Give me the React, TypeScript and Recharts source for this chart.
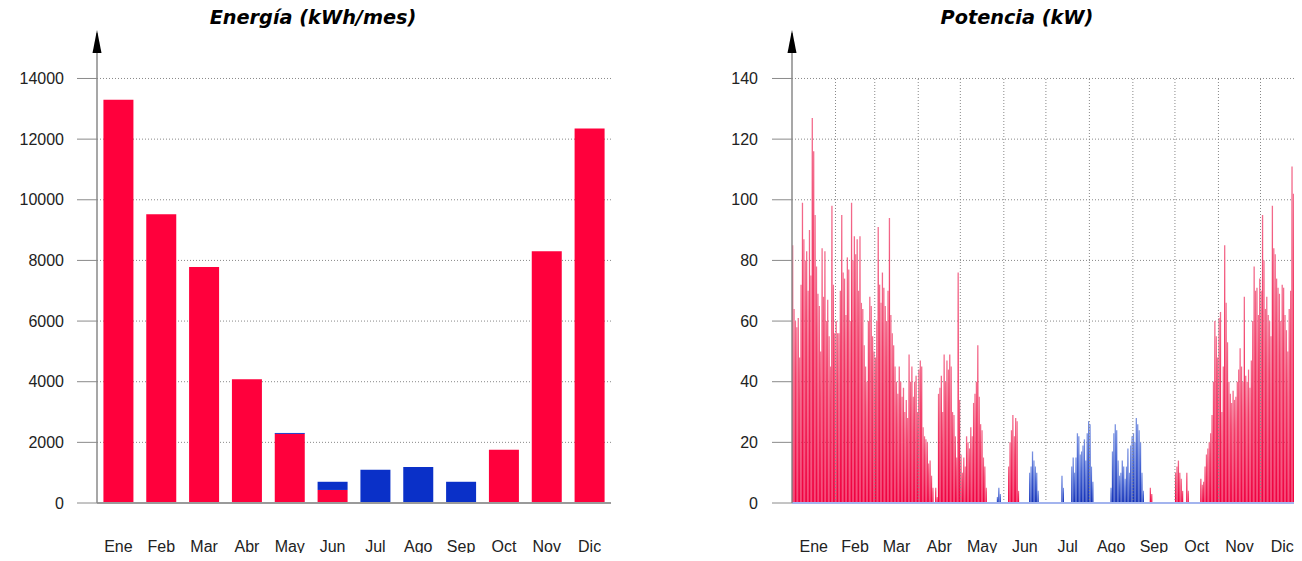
import React from "react";
import { BarChart, Bar, XAxis, YAxis, CartesianGrid, ReferenceLine } from "recharts";

// ---- monthly energy (kWh/mes) ----
const months = ["Ene", "Feb", "Mar", "Abr", "May", "Jun", "Jul", "Ago", "Sep", "Oct", "Nov", "Dic"];
const heatingKWh = [13300, 9520, 7780, 4080, 2280, 430, 0, 0, 0, 1760, 8300, 12350];
const coolingKWh = [0, 0, 0, 0, 30, 270, 1100, 1190, 700, 0, 0, 0];
const energyTicks = [0, 2000, 4000, 6000, 8000, 10000, 12000, 14000];

// ---- daily peak power (kW) ----
const powerTicks = [0, 20, 40, 60, 80, 100, 120, 140];

const heatEne = [85, 64, 60, 58, 61, 48, 72, 99, 87, 80, 83, 70, 90, 75, 127, 116, 95, 78, 69, 65, 50, 84, 68, 83, 60, 67, 55, 45, 98, 72, 56];
const heatFeb = [60, 56, 56, 70, 95, 76, 74, 62, 81, 77, 60, 99, 80, 88, 82, 87, 70, 88, 66, 64, 52, 45, 40, 60, 68, 65, 55, 50];
const heatMar = [48, 60, 91, 72, 66, 76, 71, 65, 60, 70, 94, 62, 56, 52, 45, 40, 36, 45, 40, 35, 38, 30, 34, 28, 49, 40, 45, 35, 40, 42, 30];
const heatAbr = [44, 47, 45, 25, 22, 21, 20, 13, 14, 9, 5, 0, 5, 2, 36, 38, 42, 30, 49, 40, 47, 44, 49, 45, 30, 29, 22, 15, 76, 34];
const heatMay = [16, 10, 15, 12, 22, 20, 18, 25, 22, 33, 36, 40, 52, 35, 26, 24, 15, 12, 5, 0, 0, 0, 0, 0, 0, 0, 0, 0, 0, 0, 0];
const heatJun = [0, 0, 0, 12, 20, 24, 29, 22, 28, 27, 4, 0, 0, 0, 0, 0, 0, 0, 0, 0, 0, 0, 0, 0, 0, 0, 0, 0, 0, 0];
const heatJul = [0, 0, 0, 0, 0, 0, 0, 0, 0, 0, 0, 0, 0, 0, 0, 0, 0, 0, 0, 0, 0, 0, 0, 0, 0, 0, 0, 0, 0, 0, 0];
const heatAgo = [0, 0, 0, 0, 0, 0, 0, 0, 0, 0, 0, 0, 0, 0, 0, 0, 0, 0, 0, 0, 0, 0, 0, 0, 0, 0, 0, 0, 0, 0, 0];
const heatSep = [0, 0, 0, 0, 0, 0, 0, 0, 0, 0, 0, 0, 5, 3, 0, 0, 0, 0, 0, 0, 0, 0, 0, 0, 0, 0, 0, 0, 0, 0];
const heatOct = [10, 12, 14, 10, 8, 4, 0, 0, 10, 4, 0, 0, 0, 0, 0, 0, 0, 0, 8, 6, 7, 12, 16, 18, 20, 23, 29, 40, 60, 55, 48];
const heatNov = [61, 63, 30, 45, 85, 66, 53, 40, 36, 33, 37, 34, 35, 40, 44, 51, 45, 40, 68, 42, 40, 44, 38, 47, 60, 78, 70, 71, 62, 74];
const heatDic = [70, 95, 80, 64, 68, 62, 60, 55, 98, 84, 82, 74, 71, 69, 60, 72, 71, 62, 57, 50, 64, 70, 111, 102, 96, 93, 71, 65, 62, 60, 55];

const coolMay = [0, 0, 0, 0, 0, 0, 0, 0, 0, 0, 0, 0, 0, 0, 0, 0, 0, 0, 0, 0, 0, 0, 0, 0, 0, 0, 2, 5, 3, 0, 0];
const coolJun = [0, 0, 0, 0, 0, 0, 0, 0, 0, 0, 0, 0, 0, 0, 0, 0, 0, 0, 10, 12, 17, 14, 12, 10, 4, 0, 0, 0, 0, 0];
const coolJul = [0, 0, 0, 0, 0, 0, 0, 0, 0, 0, 0, 9, 5, 0, 0, 0, 0, 0, 12, 15, 10, 15, 23, 22, 16, 17, 19, 21, 14, 23, 27];
const coolAgo = [26, 12, 7, 0, 0, 0, 0, 0, 0, 0, 0, 0, 0, 0, 0, 5, 17, 23, 26, 24, 14, 9, 10, 14, 12, 8, 12, 18, 10, 19, 22];
const coolSep = [23, 20, 28, 26, 24, 20, 10, 4, 0, 0, 0, 0, 0, 0, 0, 0, 0, 0, 0, 0, 0, 0, 0, 0, 0, 0, 0, 0, 0, 0];

const heatByMonth = [heatEne, heatFeb, heatMar, heatAbr, heatMay, heatJun, heatJul, heatAgo, heatSep, heatOct, heatNov, heatDic];
const coolByMonth: Record<number, number[]> = { 4: coolMay, 5: coolJun, 6: coolJul, 7: coolAgo, 8: coolSep };

const energyData = months.map((m, i) => ({ month: m, heat: heatingKWh[i], cool: coolingKWh[i] }));

const powerData: { d: number; heat: number; cool: number }[] = [];
const monthStarts: number[] = [];
const monthMids: number[] = [];
{
  let day = 0;
  heatByMonth.forEach((arr, m) => {
    monthStarts.push(day);
    monthMids.push(day + arr.length / 2);
    arr.forEach((v, i) => {
      powerData.push({ d: day + 0.5, heat: v, cool: coolByMonth[m] ? coolByMonth[m][i] : 0 });
      day++;
    });
  });
}
const totalDays = powerData.length;
const boundaries = monthStarts.slice(1);

const tickFont = { fontSize: 16, fill: "#222", fontFamily: "Liberation Sans, Arial, sans-serif" };
const titleStyle: React.CSSProperties = {
  position: "absolute",
  top: 7,
  width: 400,
  textAlign: "center",
  fontFamily: "DejaVu Sans, Verdana, sans-serif",
  fontWeight: "bold",
  fontStyle: "italic",
  fontSize: 19.3,
  lineHeight: "22px",
  color: "#000",
};

function AxisArrow(props: any) {
  const vb = props.viewBox;
  if (!vb) return null;
  const x = vb.x + vb.width;
  const y = vb.y;
  return <path d={`M${x - 4.5},${y + 20} L${x},${y - 3} L${x + 4.5},${y + 20} Z`} fill="#000" />;
}

function EnergyChart() {
  return (
    <BarChart width={650} height={561} data={energyData} margin={{ top: 33, right: 39, bottom: 0, left: 0 }} barCategoryGap="15%">
      <CartesianGrid vertical={false} stroke="#888" strokeDasharray="1 2" syncWithTicks />
      <XAxis
        dataKey="month"
        height={58}
        tickLine={false}
        tickSize={0}
        tickMargin={38}
        axisLine={{ stroke: "#9a9a9a", strokeWidth: 2 }}
        tick={tickFont}
        interval={0}
      />
      <YAxis
        width={97}
        domain={[0, 15500]}
        ticks={energyTicks}
        tickSize={20}
        tickMargin={13}
        tick={tickFont}
        axisLine={{ stroke: "#8a8a8a", strokeWidth: 1.5 }}
        tickLine={{ stroke: "#8a8a8a" }}
        allowDataOverflow
        label={<AxisArrow />}
      />
      <Bar dataKey="heat" stackId="e" fill="#ff003c" isAnimationActive={false} />
      <Bar dataKey="cool" stackId="e" fill="#0a30c8" isAnimationActive={false} />
    </BarChart>
  );
}

function PowerChart() {
  return (
    <BarChart width={654} height={561} data={powerData} margin={{ top: 33, right: 0, bottom: 0, left: 0 }} barCategoryGap={0} barGap={0}>
      <defs>
        <linearGradient id="heatGrad" x1="0" y1="0" x2="0" y2="1">
          <stop offset="0" stopColor="#f36e8e" />
          <stop offset="0.3" stopColor="#f23d68" />
          <stop offset="1" stopColor="#f00040" />
        </linearGradient>
        <linearGradient id="coolGrad" x1="0" y1="0" x2="0" y2="1">
          <stop offset="0" stopColor="#7d95e2" />
          <stop offset="0.4" stopColor="#4463d2" />
          <stop offset="1" stopColor="#1432b8" />
        </linearGradient>
      </defs>
      <CartesianGrid vertical={false} xAxisId="m" stroke="#888" strokeDasharray="1 2" syncWithTicks />
      <XAxis
        xAxisId="m"
        dataKey="d"
        type="number"
        domain={[0, totalDays]}
        ticks={monthMids}
        tickFormatter={(v: number) => months[monthMids.indexOf(v)] ?? ""}
        height={58}
        tickLine={false}
        tickSize={0}
        tickMargin={38}
        axisLine={{ stroke: "#a3b4ee", strokeWidth: 2 }}
        tick={tickFont}
        interval={0}
        allowDataOverflow
      />
      <XAxis xAxisId="days" dataKey="d" type="category" hide height={0} />
      <YAxis
        width={142}
        domain={[0, 155]}
        ticks={powerTicks}
        tickSize={20}
        tickMargin={14}
        tick={tickFont}
        axisLine={{ stroke: "#8a8a8a", strokeWidth: 1.5 }}
        tickLine={{ stroke: "#8a8a8a" }}
        allowDataOverflow
        label={<AxisArrow />}
      />
      {boundaries.map((b) => (
        <ReferenceLine
          key={b}
          xAxisId="m"
          segment={[{ x: b, y: 0 }, { x: b, y: 140 }]}
          stroke="#888"
          strokeDasharray="1 2"
        />
      ))}
      <Bar xAxisId="days" dataKey="heat" stackId="p" barSize={1.3} fill="url(#heatGrad)" isAnimationActive={false} />
      <Bar xAxisId="days" dataKey="cool" stackId="p" barSize={1.3} fill="url(#coolGrad)" isAnimationActive={false} />
    </BarChart>
  );
}

export default function App() {
  return (
    <div style={{ position: "relative", width: 1302, height: 561, margin: -8, overflow: "hidden", background: "#fff" }}>
      <div style={{ ...titleStyle, left: 113 }}>Energía (kWh/mes)</div>
      <div style={{ ...titleStyle, left: 817 }}>Potencia (kW)</div>
      <div style={{ position: "absolute", left: 0, top: 0 }}>
        <EnergyChart />
      </div>
      <div style={{ position: "absolute", left: 650, top: 0 }}>
        <PowerChart />
      </div>
    </div>
  );
}
